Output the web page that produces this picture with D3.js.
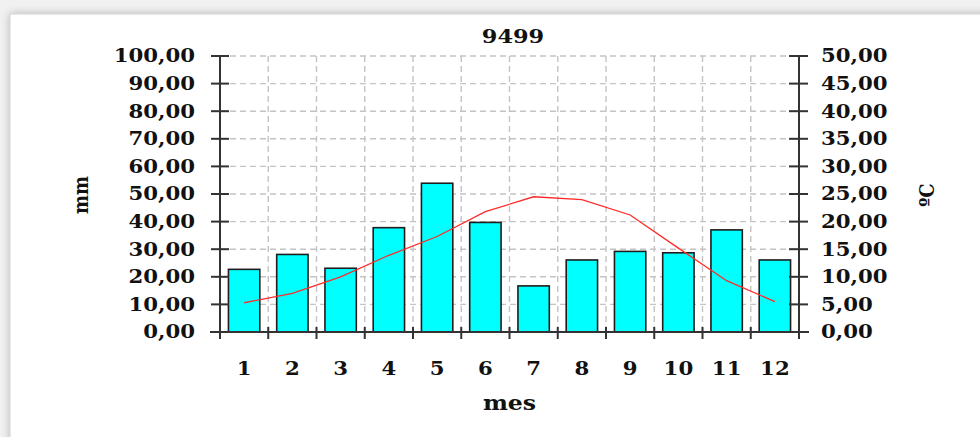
<!DOCTYPE html>
<html>
<head>
<meta charset="utf-8">
<script src="https://cdn.jsdelivr.net/npm/d3@7"></script>
<style>
  html, body { margin: 0; padding: 0; background: #f1f1f1; }
  svg { display: block; }
  text { font-family: "DejaVu Serif", serif; font-weight: bold; fill: #111; }
</style>
</head>
<body>
<svg id="chart" width="980" height="437"></svg>
<script>
const title = "9499";
const months = ["1","2","3","4","5","6","7","8","9","10","11","12"];
const precip = [22.7, 28.1, 23.1, 37.8, 53.9, 39.7, 16.7, 26.1, 29.2, 28.7, 37.0, 26.1];
const temp = [5.3, 7.0, 10.0, 13.9, 17.3, 21.8, 24.5, 24.0, 21.2, 15.2, 9.3, 5.5];
const leftTicks = [0,10,20,30,40,50,60,70,80,90,100];
const rightTicks = [0,5,10,15,20,25,30,35,40,45,50];
const xTitle = "mes", yLeftTitle = "mm", yRightTitle = "ºC";

(function () {
const svg = d3.select("#chart");
const W = 980, H = 437;
const pL = 220, pR = 799, pT = 56, pB = 332;
const SX = 1.18;
const fmt = v => d3.format(".2f")(v).replace(".", ",");

// background & panel
const defs = svg.append("defs");
const f = defs.append("filter").attr("id","sh").attr("x","-5%").attr("y","-5%").attr("width","110%").attr("height","110%");
f.append("feGaussianBlur").attr("in","SourceAlpha").attr("stdDeviation",4);
f.append("feOffset").attr("dx",0).attr("dy",0).attr("result","b");
f.append("feComponentTransfer").append("feFuncA").attr("type","linear").attr("slope",0.25);
const fm = f.append("feMerge"); fm.append("feMergeNode"); fm.append("feMergeNode").attr("in","SourceGraphic");
svg.append("rect").attr("width",W).attr("height",H).attr("fill","#f1f1f1");
svg.append("rect").attr("x",10).attr("y",14).attr("width",990).attr("height",440)
  .attr("fill","#fff").attr("stroke","#d2d2d2").attr("filter","url(#sh)");

const x = d3.scaleBand().domain(months).range([pL, pR]).paddingInner(0.35).paddingOuter(0.175);
const yL = d3.scaleLinear().domain([0,100]).range([pB, pT]);
const yR = d3.scaleLinear().domain([0,50]).range([pB, pT]);
const step = x.step();
const bounds = d3.range(0, months.length + 1).map(i => pL + i * step);

// grid
const grid = svg.append("g").attr("stroke","#c4c4c4").attr("stroke-width",1.4).attr("stroke-dasharray","6,4");
grid.selectAll(".h").data(leftTicks.slice(1)).enter().append("line")
  .attr("x1",pL).attr("x2",pR).attr("y1",d=>yL(d)).attr("y2",d=>yL(d));
grid.selectAll(".v").data(bounds.slice(1,-1)).enter().append("line")
  .attr("x1",d=>d).attr("x2",d=>d).attr("y1",pT).attr("y2",pB);

// bars
svg.append("g").selectAll("rect").data(precip).enter().append("rect")
  .attr("x",(d,i)=>x(months[i])).attr("width",x.bandwidth())
  .attr("y",d=>yL(d)).attr("height",d=>yL(0)-yL(d))
  .attr("fill","#00ffff").attr("stroke","#1e1e1e").attr("stroke-width",1.6);

// temperature line
svg.append("path").datum(temp)
  .attr("d", d3.line().x((d,i)=>x(months[i]) + x.bandwidth()/2).y(d=>yR(d)))
  .attr("fill","none").attr("stroke","#ff2a2a").attr("stroke-width",1.3);

// axes
const ax = svg.append("g").attr("stroke","#333").attr("stroke-width",2);
ax.append("line").attr("x1",pL).attr("x2",pL).attr("y1",pT).attr("y2",pB+7);
ax.append("line").attr("x1",pR).attr("x2",pR).attr("y1",pT).attr("y2",pB+7);
ax.append("line").attr("x1",pL-10).attr("x2",pR+10).attr("y1",pB).attr("y2",pB);
ax.selectAll(".tl").data(leftTicks).enter().append("line")
  .attr("x1",pL-9).attr("x2",pL+9).attr("y1",d=>yL(d)).attr("y2",d=>yL(d));
ax.selectAll(".tr").data(rightTicks).enter().append("line")
  .attr("x1",pR-10).attr("x2",pR+9).attr("y1",d=>yR(d)).attr("y2",d=>yR(d));
ax.selectAll(".tx").data(bounds).enter().append("line")
  .attr("x1",d=>d).attr("x2",d=>d).attr("y1",pB-5).attr("y2",pB+7);

// tick labels
const tg = svg.append("g").style("font-size","18px");
tg.selectAll(".ll").data(leftTicks).enter().append("text")
  .attr("transform",d=>`translate(195,${yL(d)}) scale(${SX},1)`)
  .attr("text-anchor","end").attr("dy","0.36em").text(fmt);
tg.selectAll(".rl").data(rightTicks).enter().append("text")
  .attr("transform",d=>`translate(821,${yR(d)}) scale(${SX},1)`)
  .attr("text-anchor","start").attr("dy","0.36em").text(fmt);
tg.selectAll(".xl").data(months).enter().append("text")
  .attr("transform",d=>`translate(${x(d)+x.bandwidth()/2},369) scale(${SX},1)`)
  .attr("text-anchor","middle").attr("dy","0.36em").text(d=>d);

// titles
svg.append("text").attr("transform",`translate(513,36) scale(${SX},1)`)
  .attr("text-anchor","middle").attr("dy","0.36em").style("font-size","19px").text(title);
svg.append("text").attr("transform",`translate(${(pL+pR)/2},403) scale(${SX},1)`)
  .attr("text-anchor","middle").attr("dy","0.36em").style("font-size","20px").text(xTitle);
svg.append("text").attr("transform",`translate(80,195) scale(${SX},1) rotate(-90)`)
  .attr("text-anchor","middle").attr("dy","0.36em").style("font-size","18px").text(yLeftTitle);
svg.append("text").attr("transform",`translate(926,195) scale(${SX},1) rotate(-90)`)
  .attr("text-anchor","middle").attr("dy","0.36em").style("font-size","18px").text(yRightTitle);
})();
</script>
</body>
</html>
